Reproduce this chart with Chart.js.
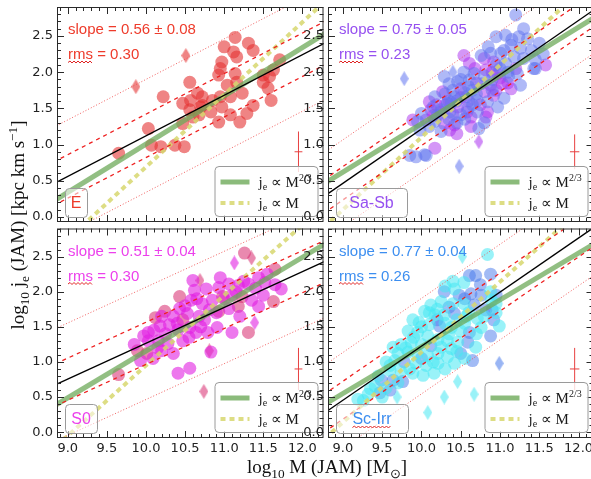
<!DOCTYPE html>
<html>
<head>
<meta charset="utf-8">
<script src="https://cdn.jsdelivr.net/npm/chart.js@4.4.1/dist/chart.umd.min.js"></script>
<style>
body { margin:0; width:591px; height:479px; overflow:hidden; background:#fff; position:relative; }
.panel { position:absolute; }
.axlab { position:absolute; font-family:'Liberation Serif'; font-size:19px; color:#111; white-space:nowrap; text-align:center; line-height:20px; }
.axlab sub, .axlab sup { font-size:70%; line-height:0; }
#xlab { left:177px; width:300px; top:457px; }
#ylab { left:-122px; width:280px; top:215px; height:20px; transform:rotate(-90deg); }
</style>
</head>
<body>
<div class="panel" style="left:0px;top:0px"><canvas id="c0" width="330" height="230"></canvas></div>
<div class="panel" style="left:0px;top:222px"><canvas id="c2" width="330" height="257"></canvas></div>
<div class="panel" style="left:300px;top:0px"><canvas id="c1" width="300" height="230"></canvas></div>
<div class="panel" style="left:300px;top:222px"><canvas id="c3" width="300" height="257"></canvas></div>
<div class="axlab" id="xlab">log<sub>10</sub> M (JAM) [M<sub>⊙</sub>]</div>
<div class="axlab" id="ylab">log<sub>10</sub> j<sub>e</sub> (JAM) [kpc km s<sup>−1</sup>]</div>
<script>
// tick labels
const massTicks = [9.0, 9.5, 10.0, 10.5, 11.0, 11.5, 12.0];
const jTicks = [0.0, 0.5, 1.0, 1.5, 2.0, 2.5];

// panels: E, Sa-Sb, S0, Sc-Irr
const typeNames = ['E', 'Sa-Sb', 'S0', 'Sc-Irr'];
const fitSlope = [0.56, 0.75, 0.51, 0.77];
const fitSlopeErr = [0.08, 0.05, 0.04, 0.04];
const fitRms = [0.30, 0.23, 0.30, 0.26];
const fitAt105 = [1.40, 1.59, 1.52, 1.61];        // black fit at log M = 10.5
const innerBand = [0.30, 0.23, 0.30, 0.27];
const outerBand = [0.78, 0.60, 0.80, 0.68];
const twoThirdsAt105 = [1.34, 1.62, 1.49, 1.55];  // j ~ M^2/3 at log M = 10.5
const linearAt105 = [1.19, 1.60, 1.45, 1.64];     // j ~ M at log M = 10.5
const errBarX = [11.95, 11.95, 11.95, 11.95];
const errBarY = [0.90, 0.90, 0.90, 0.90];
const errBarDx = [0.05, 0.06, 0.05, 0.06];
const errBarDy = [0.28, 0.24, 0.30, 0.30];

// E
const eCircles = [[11.14,2.48],[11.31,2.40],[11.37,2.30],[11.00,2.35],[11.12,2.28],[10.97,2.14],[11.16,2.21],
  [10.95,2.05],[10.93,1.96],[11.14,1.98],[11.71,2.17],[11.63,2.03],[11.50,1.96],[11.50,1.86],[11.56,1.78],
  [11.60,1.61],[11.37,1.54],[11.23,1.71],[11.08,1.66],[11.16,1.86],[11.04,1.82],[10.95,1.66],[10.97,1.52],
  [11.08,1.41],[11.20,1.31],[10.93,1.31],[10.83,1.45],[10.85,1.61],[10.72,1.66],[10.70,1.52],[10.66,1.71],
  [10.56,1.86],[10.57,1.61],[10.56,1.48],[10.47,1.57],[10.60,1.38],[10.68,1.41],[10.47,1.29],[10.49,0.97],
  [10.37,0.99],[10.19,0.97],[10.07,0.99],[10.03,1.22],[10.22,1.66],[9.65,0.88],[11.58,1.94],[11.29,1.43],[10.72,1.54]];
const eDiamonds = [[9.87,1.80],[10.51,2.23]];

// Sa-Sb
const sabBlue = [[10.95,2.49],[11.07,2.51],[11.24,2.49],[11.35,2.46],[11.14,2.37],[11.26,2.33],[11.01,2.26],
  [11.18,2.21],[11.30,2.19],[11.45,2.17],[11.43,2.05],[11.07,2.12],[10.88,2.26],[10.76,2.23],[10.54,2.00],
  [10.67,1.98],[11.11,1.94],[11.22,1.98],[11.26,1.82],[10.76,1.84],[10.61,1.89],[10.46,1.87],[10.35,1.84],
  [10.29,1.94],[10.65,1.75],[11.05,1.64],[10.97,1.52],[10.84,1.59],[10.71,1.61],[10.57,1.66],[10.42,1.66],
  [10.17,1.66],[10.33,1.57],[10.59,1.50],[10.71,1.45],[10.50,1.41],[10.36,1.45],[10.25,1.48],[10.00,1.43],
  [10.17,1.32],[10.25,1.18],[10.73,1.22],[9.95,1.32],[10.04,0.86],[9.93,0.83],[11.20,2.79],[11.45,2.05],
  [9.85,0.85],[10.06,0.85],[10.80,1.30],[11.30,2.60],[10.45,1.60],[10.55,1.72],[10.35,1.35],[10.90,1.90],
  [11.00,2.05],[10.20,1.40],[10.30,1.70],[10.40,1.75],[10.50,1.90],[10.60,1.80],[10.70,1.70],[10.80,1.95],
  [10.95,2.10],[11.05,2.30],[11.15,2.45],[10.85,2.35],[10.45,1.30],[10.55,1.35],[10.65,1.55],[10.38,1.58],
  [10.15,1.52],[10.10,1.25],[9.98,1.20],[10.90,1.75],[11.10,2.00],[11.40,2.30],[11.50,2.40],[11.55,2.25]];
const sabPurple = [[11.58,2.10],[10.92,2.14],[10.80,2.19],[10.54,2.23],[10.61,2.12],[10.82,2.03],[10.97,1.98],
  [11.03,1.84],[10.88,1.82],[11.14,1.77],[10.50,1.77],[10.80,1.73],[10.92,1.68],[10.27,1.73],[10.10,1.59],
  [10.19,1.55],[10.46,1.52],[10.82,1.38],[10.63,1.38],[10.12,1.48],[10.06,1.34],[10.29,1.29],[10.42,1.27],
  [10.36,1.20],[10.63,1.25],[9.89,1.34],[10.17,0.95],[10.84,1.45],[10.40,1.42],[10.60,1.60],[10.75,1.55],
  [10.30,1.55],[11.20,2.05],[10.25,1.45],[10.35,1.60],[10.50,1.65],[10.70,1.85],[10.90,2.00],[11.00,1.92],
  [10.58,1.45],[10.15,1.40],[10.45,1.15],[10.95,1.75],[11.10,1.85],[10.68,2.05]];
const sabBlueDiamonds = [[10.40,2.00],[9.78,1.91],[10.48,0.70]];
const sabPurpleDiamonds = [[10.73,1.04]];

// S0
const s0Magenta = [[11.44,2.20],[11.52,2.13],[11.31,2.11],[11.18,2.09],[11.06,2.11],[10.93,2.06],[10.77,2.04],
  [10.62,2.02],[10.58,1.88],[10.72,1.83],[10.85,1.88],[11.10,1.95],[11.35,1.88],[11.06,1.76],[10.81,1.74],
  [10.68,1.65],[10.53,1.69],[10.43,1.76],[10.35,1.65],[10.20,1.65],[10.18,1.51],[10.30,1.53],[10.41,1.46],
  [10.56,1.49],[10.64,1.42],[10.79,1.42],[10.91,1.49],[11.10,1.42],[10.03,1.42],[9.97,1.37],[10.03,1.30],
  [10.16,1.30],[10.28,1.26],[10.47,1.30],[10.20,1.16],[10.35,1.12],[10.09,1.05],[10.41,0.84],[10.56,0.91],
  [9.93,1.02],[10.60,2.16],[11.73,2.04],[11.44,1.79],[10.83,1.14],[11.55,2.25],[11.65,2.10],
  [10.10,1.45],[10.25,1.40],[10.40,1.55],[10.50,1.80],[10.65,1.90],[10.75,1.60],[10.90,1.70],[11.00,1.90],
  [11.15,2.00],[11.25,2.15],[11.40,2.05],[11.50,1.95],[10.55,1.35],[10.15,1.20],[9.85,1.25],[10.95,2.20],
  [11.20,1.65],[10.70,1.50]];
const s0Pink = [[11.26,2.55],[11.65,2.32],[11.63,1.86],[10.98,1.93],[11.23,1.93],[11.18,1.79],[10.93,1.72],
  [10.47,1.60],[10.24,1.72],[10.12,1.63],[11.31,1.42],[10.01,1.12],[9.89,1.16],[9.65,0.82],[10.43,1.93]];
const s0MagentaDiamonds = [[11.13,2.41],[11.39,1.56]];
const s0PinkDiamonds = [[11.35,2.48],[10.69,2.16],[10.81,1.16],[10.74,0.58]];

// Sc-Irr
const scCyan = [[10.84,2.53],[10.54,2.13],[10.42,2.04],[10.88,2.00],[10.95,1.83],[10.54,1.83],[10.40,1.83],
  [10.25,1.86],[10.12,1.81],[10.04,1.72],[10.17,1.67],[10.29,1.67],[10.57,1.65],[10.71,1.62],[10.76,1.49],
  [10.50,1.44],[10.38,1.49],[10.10,1.53],[9.97,1.56],[9.89,1.60],[9.83,1.44],[9.95,1.42],[10.08,1.37],
  [10.21,1.32],[10.33,1.30],[10.46,1.28],[10.69,1.21],[10.38,1.19],[10.25,1.21],[10.00,1.25],[9.87,1.28],
  [9.74,1.25],[9.64,1.21],[9.70,1.12],[9.83,1.14],[9.95,1.12],[10.08,1.09],[10.21,1.12],[10.33,1.07],
  [10.42,0.98],[10.21,0.98],[10.06,0.95],[9.93,0.98],[9.66,1.02],[9.55,1.00],[9.60,0.88],[9.74,0.86],
  [9.89,0.84],[10.02,0.81],[10.16,0.84],[9.41,0.65],[9.55,0.63],[9.32,0.54],[9.26,0.45],[9.19,0.47],
  [10.89,1.88],[10.99,1.51],[9.45,0.80],[9.60,0.95],[9.80,1.20],[9.90,1.35],[10.00,1.50],[10.10,1.70],
  [10.20,1.75],[10.30,1.55],[10.35,1.40],[10.45,1.60],[10.55,1.55],[10.60,1.70],[10.45,1.15],[10.55,1.05],
  [10.30,0.90],[10.15,1.00],[9.85,0.90],[9.70,0.70],[9.50,0.50],[9.35,0.62],[10.70,1.40],[10.80,1.65],
  [10.95,1.70],[10.40,2.15],[10.30,2.08]];
const scBlue = [[10.69,2.23],[10.61,2.23],[10.88,2.25],[10.29,2.00],[10.48,1.95],[10.63,1.97],[10.76,1.95],
  [10.82,1.74],[10.67,1.81],[10.42,1.69],[10.92,1.60],[10.88,1.37],[10.61,1.42],[10.23,1.51],[10.59,1.28],
  [10.65,1.02],[10.50,1.12],[10.12,1.23],[9.78,1.00],[9.49,0.74],[9.64,0.74],[9.76,0.72],[9.47,0.56],[10.90,1.74],
  [10.75,2.10],[10.95,1.95],[10.55,1.90],[10.35,1.78],[10.20,1.60],[10.00,1.05],[9.60,0.60]];
const scBlueDiamonds = [[10.99,0.98]];
const scCyanDiamonds = [[10.46,0.72],[10.67,0.54],[10.29,0.50],[10.08,0.28],[9.69,0.50],[10.52,2.50]];

const panelPoints = [
  [[eCircles, 'rgba(228,50,50,0.6)', false], [eDiamonds, 'rgba(228,50,50,0.6)', true]],
  [[sabBlue, 'rgba(95,115,240,0.5)', false], [sabPurple, 'rgba(170,45,240,0.5)', false],
   [sabBlueDiamonds, 'rgba(95,115,240,0.55)', true], [sabPurpleDiamonds, 'rgba(170,45,240,0.55)', true]],
  [[s0Magenta, 'rgba(225,30,225,0.6)', false], [s0Pink, 'rgba(215,40,110,0.55)', false],
   [s0MagentaDiamonds, 'rgba(225,30,225,0.6)', true], [s0PinkDiamonds, 'rgba(215,40,110,0.55)', true]],
  [[scCyan, 'rgba(70,232,242,0.55)', false], [scBlue, 'rgba(70,120,235,0.5)', false],
   [scBlueDiamonds, 'rgba(70,120,235,0.55)', true], [scCyanDiamonds, 'rgba(70,232,242,0.55)', true]]
];

const textColor = ['#ee3b2b', '#9650f0', '#ec40ec', '#3c8ef0'];

const layout = [
  { id: 'c0', pad: {left: 0, top: 7, right: 2, bottom: 8}, yW: 57, xH: 0, xMin: 8.862, xMax: 12.27, yMin: -0.07, yMax: 2.90, boxW: 22 },
  { id: 'c1', pad: {left: 0, top: 7, right: 5, bottom: 8}, yW: 28, xH: 0, xMin: 8.81, xMax: 12.19, yMin: -0.07, yMax: 2.90, boxW: 71 },
  { id: 'c2', pad: {left: 0, top: 1, right: 2, bottom: 0}, yW: 57, xH: 41, xMin: 8.862, xMax: 12.27, yMin: -0.083, yMax: 2.90, boxW: 32 },
  { id: 'c3', pad: {left: 0, top: 1, right: 5, bottom: 0}, yW: 28, xH: 41, xMin: 8.81, xMax: 12.19, yMin: -0.083, yMax: 2.90, boxW: 72 }
];

function diamond(color) {
  const c = document.createElement('canvas');
  c.width = 9; c.height = 15;
  const g = c.getContext('2d');
  g.fillStyle = color;
  g.beginPath(); g.moveTo(4.5, 0); g.lineTo(9, 7.5); g.lineTo(4.5, 15); g.lineTo(0, 7.5); g.closePath(); g.fill();
  return c;
}

function toXY(arr) { return arr.map(p => ({x: p[0], y: p[1]})); }

function lineData(slope, mid, off) {
  return [8.0, 12.8].map(x => ({x: x, y: mid + off + slope * (x - 10.5)}));
}

function squiggle(ctx, x0, x1, y) {
  ctx.beginPath();
  ctx.strokeStyle = '#e02424';
  ctx.lineWidth = 1;
  ctx.moveTo(x0, y);
  let up = true;
  for (let x = x0 + 2; x <= x1; x += 2) { ctx.lineTo(x, up ? y - 1.5 : y + 0.5); up = !up; }
  ctx.stroke();
}

// text with sub/superscripts: parts = [[text, 0|-1|1], ...]
function mathText(ctx, x, y, parts, size) {
  for (const [t, k] of parts) {
    const s = k === 0 ? size : Math.round(size * 0.68);
    ctx.font = s + 'px "Liberation Serif"';
    const dy = k === -1 ? 3 : (k === 1 ? -6 : 0);
    ctx.fillText(t, x, y + dy);
    x += ctx.measureText(t).width;
  }
}

const deco = {
  id: 'deco',
  afterDatasetsDraw(chart, args, opts) {
    const ctx = chart.ctx, a = chart.chartArea;
    const xs = chart.scales.x, ys = chart.scales.y;
    const i = opts.idx;
    ctx.save();
    // frame
    ctx.strokeStyle = '#2a2a2a';
    ctx.lineWidth = 1;
    ctx.strokeRect(a.left + 0.5, a.top + 0.5, a.right - a.left - 1, a.bottom - a.top - 1);
    // inward ticks, major 0.5 / minor 0.1
    ctx.beginPath();
    for (let k = Math.ceil(xs.min * 10); k <= Math.floor(xs.max * 10); k++) {
      const px = Math.round(xs.getPixelForValue(k / 10)) + 0.5;
      const len = k % 5 === 0 ? 7 : 4;
      ctx.moveTo(px, a.bottom); ctx.lineTo(px, a.bottom - len);
      ctx.moveTo(px, a.top); ctx.lineTo(px, a.top + len);
    }
    for (let k = Math.ceil(ys.min * 10); k <= Math.floor(ys.max * 10); k++) {
      const py = Math.round(ys.getPixelForValue(k / 10)) + 0.5;
      const len = k % 5 === 0 ? 7 : 4;
      ctx.moveTo(a.left, py); ctx.lineTo(a.left + len, py);
      ctx.moveTo(a.right, py); ctx.lineTo(a.right - len, py);
    }
    ctx.stroke();

    // slope / rms text
    ctx.fillStyle = textColor[i];
    ctx.font = '15px "Liberation Sans"';
    ctx.textBaseline = 'alphabetic';
    const tx = a.left + 11;
    ctx.fillText('slope = ' + fitSlope[i].toFixed(2) + ' ± ' + fitSlopeErr[i].toFixed(2), tx, a.top + 27);
    ctx.fillText('rms = ' + fitRms[i].toFixed(2), tx, a.top + 52);
    squiggle(ctx, tx, tx + ctx.measureText('rms').width, a.top + 55.5);

    // type label box
    const bw = layout[i].boxW, bh = 29;
    const bx = a.left + 8, by = a.bottom - 5 - bh;
    ctx.beginPath();
    ctx.roundRect(bx + 0.5, by + 0.5, bw, bh, 4);
    ctx.fillStyle = 'rgba(255,255,255,0.55)';
    ctx.fill();
    ctx.strokeStyle = '#9a9a9a';
    ctx.stroke();
    ctx.fillStyle = textColor[i];
    ctx.font = '16px "Liberation Sans"';
    ctx.textAlign = 'center';
    ctx.fillText(typeNames[i], bx + bw / 2, by + bh - 9);
    if (typeNames[i] === 'Sc-Irr') {
      const w = ctx.measureText('Sc-Irr').width;
      squiggle(ctx, bx + bw / 2 - w / 2, bx + bw / 2 + w / 2, by + bh - 5.5);
    }
    ctx.textAlign = 'left';

    // legend
    const lw = 103, lh = 50;
    const lx = a.right - 6 - lw, ly = a.bottom - 6 - lh;
    ctx.beginPath();
    ctx.roundRect(lx + 0.5, ly + 0.5, lw, lh, 4);
    ctx.fillStyle = 'rgba(255,255,255,0.8)';
    ctx.fill();
    ctx.strokeStyle = '#9a9a9a';
    ctx.stroke();
    ctx.beginPath();
    ctx.strokeStyle = 'rgba(110,170,90,0.8)';
    ctx.lineWidth = 5;
    ctx.moveTo(lx + 6, ly + 16); ctx.lineTo(lx + 35, ly + 16);
    ctx.stroke();
    ctx.beginPath();
    ctx.strokeStyle = 'rgba(215,215,110,0.85)';
    ctx.lineWidth = 4;
    ctx.setLineDash([5, 4]);
    ctx.moveTo(lx + 6, ly + 37); ctx.lineTo(lx + 35, ly + 37);
    ctx.stroke();
    ctx.setLineDash([]);
    ctx.fillStyle = '#1a1a1a';
    mathText(ctx, lx + 44, ly + 21, [['j', 0], ['e', -1], [' ∝ M', 0], ['2/3', 1]], 15);
    mathText(ctx, lx + 44, ly + 42, [['j', 0], ['e', -1], [' ∝ M', 0]], 15);
    ctx.restore();
  }
};

layout.forEach((L, i) => {
  const datasets = [];
  // lines, drawn above the points
  datasets.push({ type: 'line', data: lineData(fitSlope[i], fitAt105[i], 0), borderColor: '#000', borderWidth: 1.4, order: 0 });
  for (const s of [-1, 1]) {
    datasets.push({ type: 'line', data: lineData(fitSlope[i], fitAt105[i], s * innerBand[i]), borderColor: '#ee2020', borderWidth: 1.3, borderDash: [4, 4], order: 1 });
    datasets.push({ type: 'line', data: lineData(fitSlope[i], fitAt105[i], s * outerBand[i]), borderColor: 'rgba(240,80,80,0.9)', borderWidth: 1, borderDash: [1, 2], order: 2 });
  }
  datasets.push({ type: 'line', data: lineData(1.0, linearAt105[i], 0), borderColor: 'rgba(215,215,110,0.85)', borderWidth: 4, borderDash: [5, 4], order: 3 });
  datasets.push({ type: 'line', data: lineData(2 / 3, twoThirdsAt105[i], 0), borderColor: 'rgba(110,170,90,0.75)', borderWidth: 5, order: 4 });
  // error bar
  datasets.push({ type: 'line', data: [{x: errBarX[i], y: errBarY[i] - errBarDy[i]}, {x: errBarX[i], y: errBarY[i] + errBarDy[i]}], borderColor: '#e84040', borderWidth: 1, order: 5 });
  datasets.push({ type: 'line', data: [{x: errBarX[i] - errBarDx[i], y: errBarY[i]}, {x: errBarX[i] + errBarDx[i], y: errBarY[i]}], borderColor: '#e84040', borderWidth: 1, order: 5 });
  // points
  panelPoints[i].forEach(([arr, color, isDiamond], k) => {
    datasets.push({
      type: 'scatter', data: toXY(arr), backgroundColor: color, borderWidth: 0,
      pointRadius: 6.5, pointStyle: isDiamond ? diamond(color) : 'circle', order: 10 + k
    });
  });
  datasets.forEach(d => { d.clip = 0; if (d.type === 'line') { d.pointRadius = 0; d.fill = false; } });

  new Chart(document.getElementById(L.id), {
    type: 'scatter',
    data: { datasets: datasets },
    options: {
      responsive: false,
      animation: false,
      devicePixelRatio: 1,
      layout: { padding: L.pad },
      events: [],
      plugins: { legend: { display: false }, tooltip: { enabled: false }, deco: { idx: i } },
      scales: {
        x: {
          type: 'linear', min: L.xMin, max: L.xMax,
          grid: { display: false, drawTicks: false }, border: { display: false },
          ticks: { display: L.xH > 0, autoSkip: false, maxRotation: 0, padding: 3, color: '#222',
                   font: { family: 'DejaVu Sans', size: 13 }, callback: v => v.toFixed(1) },
          afterBuildTicks: s => { s.ticks = massTicks.map(v => ({ value: v })); },
          afterFit: s => { s.height = L.xH; s.paddingLeft = 0; s.paddingRight = 0; }
        },
        y: {
          type: 'linear', min: L.yMin, max: L.yMax,
          grid: { display: false, drawTicks: false }, border: { display: false },
          ticks: { autoSkip: false, padding: 4, color: '#222',
                   font: { family: 'DejaVu Sans', size: 13 }, callback: v => v.toFixed(1) },
          afterBuildTicks: s => { s.ticks = jTicks.map(v => ({ value: v })); },
          afterFit: s => { s.width = L.yW; s.paddingTop = 0; s.paddingBottom = 0; }
        }
      }
    },
    plugins: [deco]
  });
});
</script>
</body>
</html>
